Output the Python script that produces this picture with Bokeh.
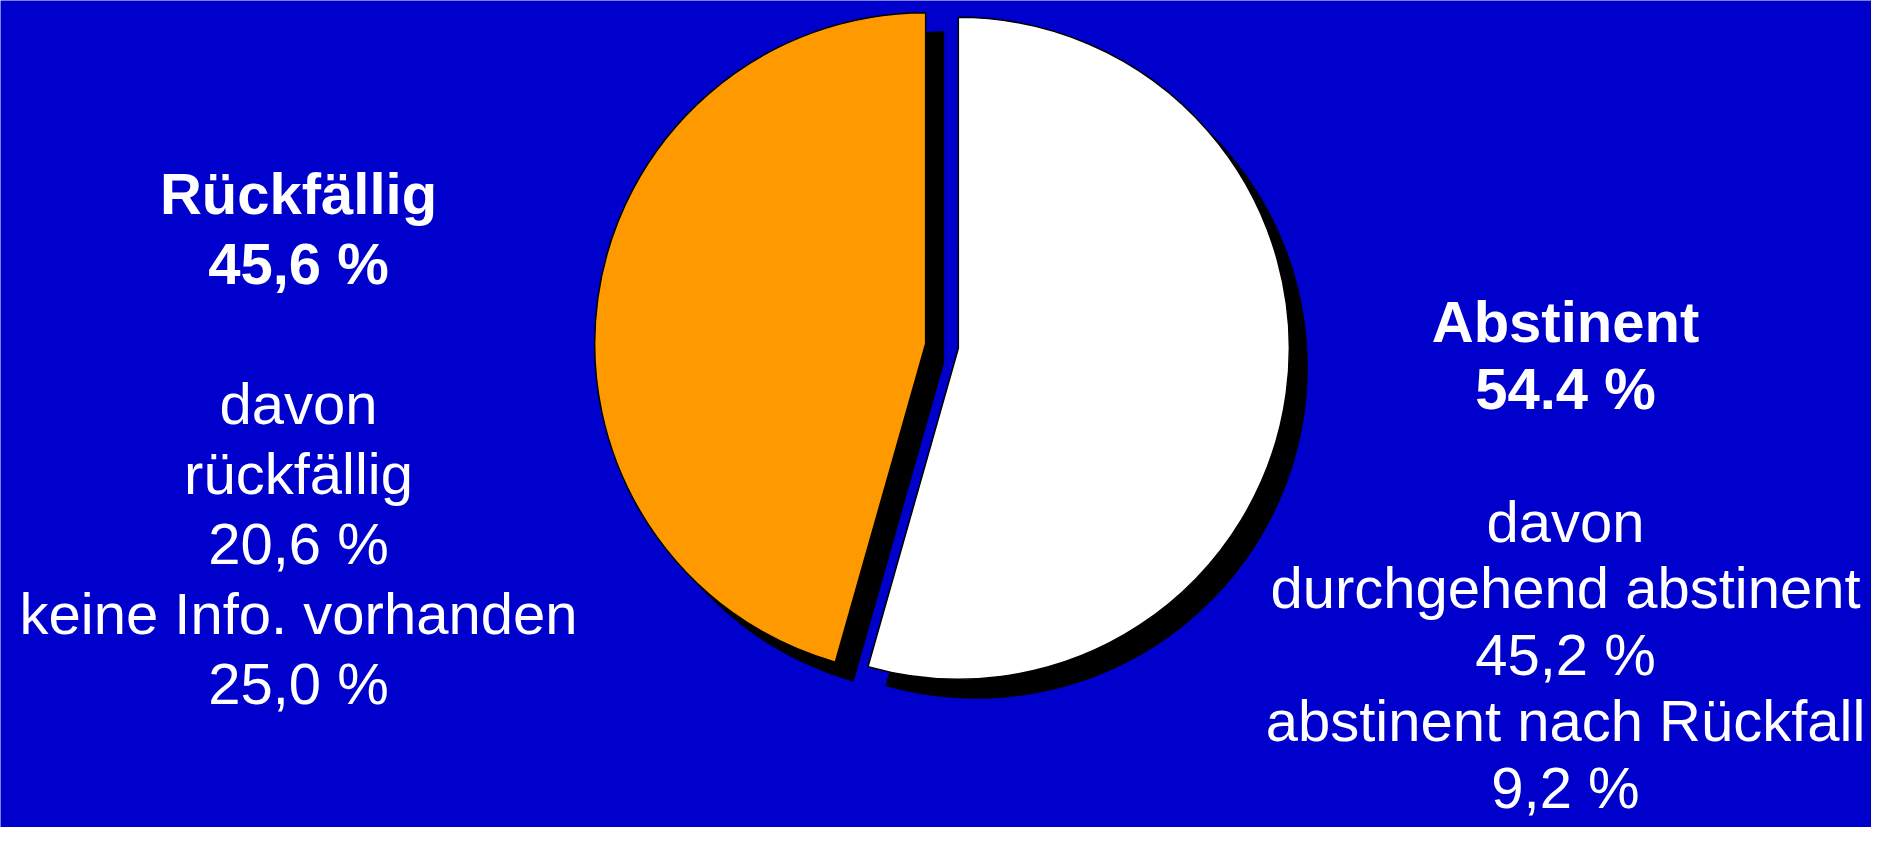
import math
from bokeh.plotting import figure
from bokeh.models import ColumnDataSource
from bokeh.core.properties import value
from bokeh.embed import file_html
from bokeh.resources import INLINE

# ---- data ----
categories = ["Rückfällig", "Abstinent"]
shares = [45.6, 54.4]
share_labels = ["45,6 %", "54.4 %"]
slice_colors = ["#FF9900", "#FFFFFF"]
left_sub_lines = ["davon", "rückfällig", "20,6 %", "keine Info. vorhanden", "25,0 %"]
right_sub_lines = ["davon", "durchgehend abstinent", "45,2 %", "abstinent nach Rückfall", "9,2 %"]

W, H = 1871, 827
BG = "#0000CC"

p = figure(width=W, height=H, output_backend="svg", toolbar_location=None,
           x_range=(0, W), y_range=(0, H), min_border=0,
           background_fill_color=BG, border_fill_color=BG, outline_line_color=None)
p.axis.visible = False
p.grid.visible = False

# pie geometry (screen px, y up)
cx, cy = 941.5, 481.5
R = 331
explode = 16.5
shadow_dx, shadow_dy = 18, -19

total = sum(shares)
starts, ends, xs, ys = [], [], [], []
a = math.pi / 2  # start at 12 o'clock, go counterclockwise (orange on left)
for s in shares:
    span = 2 * math.pi * s / total
    starts.append(a)
    ends.append(a + span)
    mid = a + span / 2
    xs.append(cx + explode * math.cos(mid))
    ys.append(cy + explode * math.sin(mid))
    a += span

src = ColumnDataSource(dict(x=xs, y=ys, start=starts, end=ends, color=slice_colors,
                            sx=[x + shadow_dx for x in xs], sy=[y + shadow_dy for y in ys]))

p.wedge(x="sx", y="sy", radius=R, start_angle="start", end_angle="end",
        fill_color="black", line_color="black", source=src)
p.wedge(x="x", y="y", radius=R, start_angle="start", end_angle="end",
        fill_color="color", line_color="black", line_width=1.5, source=src)

FONT = value("Liberation Sans")
FS = "58px"

def block(xc, ytop, lh, title, pct, subs):
    lines = [(title, "bold"), (pct, "bold"), ("", "normal")] + [(t, "normal") for t in subs]
    for i, (t, st) in enumerate(lines):
        if not t:
            continue
        p.text(x=[xc], y=[ytop - i * lh], text=[t], text_font=FONT, text_font_size=FS,
               text_font_style=st, text_color="white", text_align="center",
               text_baseline="alphabetic")

# left block (Rückfällig), right block (Abstinent)
block(298, 634, 70, categories[0], share_labels[0], left_sub_lines)
block(1565, 506, 66.5, categories[1], share_labels[1], right_sub_lines)

open("out.html", "w").write(file_html(p, INLINE))
